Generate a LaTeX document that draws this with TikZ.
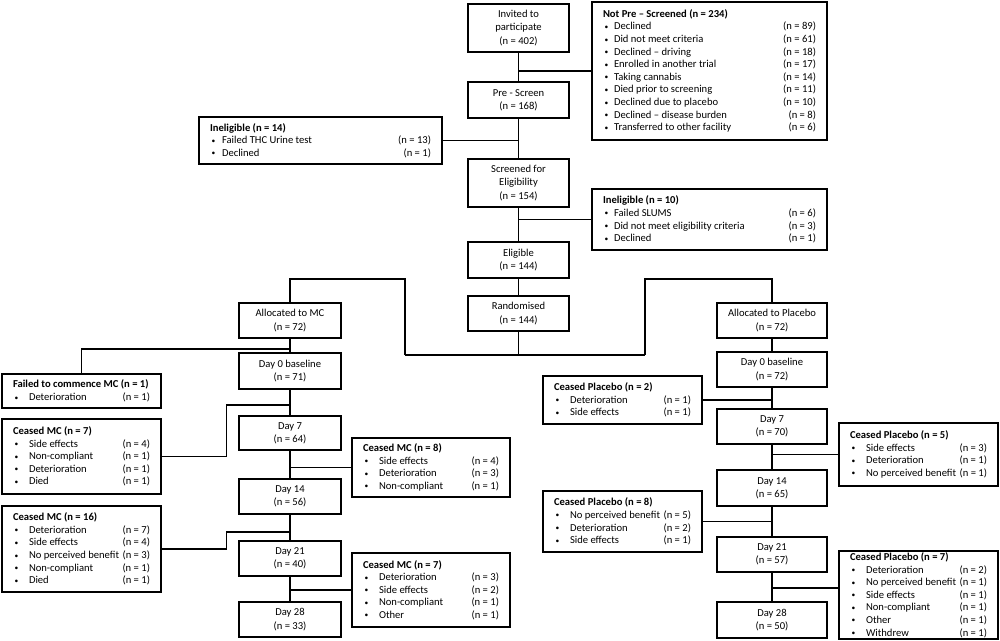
\documentclass[tikz,border=0pt]{standalone}
\usepackage{fontspec}
\setmainfont{Carlito}
\newlength\bulw
\newcommand\ttl[1]{\hbox{\textbf{#1}}}
\newcommand\rw[2]{\hbox to \linewidth{\makebox[\bulw][l]{\hspace{1.5pt}\raisebox{0.5pt}{\fontsize{7.5}{7.5}\selectfont\textbullet}}#1\hfill(n = #2)}}
\newcommand\lst[3]{\parbox{#1}{\setlength\bulw{#2}\setlength\parindent{0pt}\setlength\parskip{0pt}\fontsize{10.6}{12.6}\selectfont #3}}
\tikzset{
  box/.style={draw, line width=1.1pt, inner sep=0pt, align=center, font=\fontsize{10.6}{13.3}\selectfont},
  sbox/.style={draw, line width=1.1pt, inner sep=0pt},
  link/.style={line width=1.1pt}
}
\begin{document}
\begin{tikzpicture}[x=1pt, y=-1pt]
\useasboundingbox (0,0) rectangle (1000,640);
% middle column
\node[box, minimum width=101, minimum height=48] (invited) at (518.5,28) {Invited to\\participate\\(n = 402)};
\node[box, minimum width=101, minimum height=36] (prescreen) at (518.5,100) {Pre - Screen\\(n = 168)};
\node[box, minimum width=101, minimum height=48] (screened) at (518.5,183) {Screened for\\Eligibility\\(n = 154)};
\node[box, minimum width=101, minimum height=36] (eligible) at (518.5,260) {Eligible\\(n = 144)};
\node[box, minimum width=101, minimum height=35] (randomised) at (518.5,313.5) {Randomised\\(n = 144)};
% side boxes top
\node[sbox, minimum width=235, minimum height=138] (notpre) at (709.5,71) {\lst{213pt}{11pt}{%
\ttl{Not Pre – Screened (n = 234)}
\rw{Declined}{89}
\rw{Did not meet criteria}{61}
\rw{Declined – driving}{18}
\rw{Enrolled in another trial}{17}
\rw{Taking cannabis}{14}
\rw{Died prior to screening}{11}
\rw{Declined due to placebo}{10}
\rw{Declined – disease burden}{8}
\rw{Transferred to other facility}{6}}};
\node[sbox, minimum width=243, minimum height=47] (inel14) at (320.5,140.5) {\lst{221pt}{12pt}{%
\ttl{Ineligible (n = 14)}
\rw{Failed THC Urine test}{13}
\rw{Declined}{1}}};
\node[sbox, minimum width=235, minimum height=61] (inel10) at (709.5,219.5) {\lst{213pt}{11pt}{%
\ttl{Ineligible (n = 10)}
\rw{Failed SLUMS}{6}
\rw{Did not meet eligibility criteria}{3}
\rw{Declined}{1}}};
% MC column
\node[box, minimum width=102, minimum height=35] (allocmc) at (290,320.5) {Allocated to MC\\(n = 72)};
\node[box, minimum width=102, minimum height=36] (mc0) at (290,371) {Day 0 baseline\\(n = 71)};
\node[box, minimum width=102, minimum height=34] (mc7) at (290,433) {Day 7\\(n = 64)};
\node[box, minimum width=102, minimum height=35] (mc14) at (290,496.5) {Day 14\\(n = 56)};
\node[box, minimum width=102, minimum height=35] (mc21) at (290,558.5) {Day 21\\(n = 40)};
\node[box, minimum width=102, minimum height=35] (mc28) at (290,619.5) {Day 28\\(n = 33)};
% placebo column
\node[box, minimum width=110, minimum height=35] (allocpl) at (772,320.5) {Allocated to Placebo\\(n = 72)};
\node[box, minimum width=110, minimum height=35] (pl0) at (772,369.5) {Day 0 baseline\\(n = 72)};
\node[box, minimum width=110, minimum height=35] (pl7) at (772,426.5) {Day 7\\(n = 70)};
\node[box, minimum width=110, minimum height=36] (pl14) at (772,488) {Day 14\\(n = 65)};
\node[box, minimum width=110, minimum height=35] (pl21) at (772,554.5) {Day 21\\(n = 57)};
\node[box, minimum width=110, minimum height=36] (pl28) at (772,620) {Day 28\\(n = 50)};
% MC side boxes
\node[sbox, minimum width=159, minimum height=34] (failed) at (81.5,391) {\lst{137pt}{16pt}{%
\ttl{Failed to commence MC (n = 1)}
\rw{Deterioration}{1}}};
\node[sbox, minimum width=159, minimum height=75] (cmc7a) at (81.5,456.5) {\lst{137pt}{16pt}{%
\ttl{Ceased MC (n = 7)}
\rw{Side effects}{4}
\rw{Non-compliant}{1}
\rw{Deterioration}{1}
\rw{Died}{1}}};
\node[sbox, minimum width=159, minimum height=86] (cmc16) at (81.5,549) {\lst{137pt}{16pt}{%
\ttl{Ceased MC (n = 16)}
\rw{Deterioration}{7}
\rw{Side effects}{4}
\rw{No perceived benefit}{3}
\rw{Non-compliant}{1}
\rw{Died}{1}}};
\node[sbox, minimum width=158, minimum height=59] (cmc8) at (431,467.5) {\lst{136pt}{16pt}{%
\ttl{Ceased MC (n = 8)}
\rw{Side effects}{4}
\rw{Deterioration}{3}
\rw{Non-compliant}{1}}};
\node[sbox, minimum width=158, minimum height=74] (cmc7b) at (431,590) {\lst{136pt}{16pt}{%
\ttl{Ceased MC (n = 7)}
\rw{Deterioration}{3}
\rw{Side effects}{2}
\rw{Non-compliant}{1}
\rw{Other}{1}}};
% placebo side boxes
\node[sbox, minimum width=159, minimum height=48] (cpl2) at (622.5,400) {\lst{137pt}{16pt}{%
\ttl{Ceased Placebo (n = 2)}
\rw{Deterioration}{1}
\rw{Side effects}{1}}};
\node[sbox, minimum width=159, minimum height=61] (cpl8) at (622.5,521.5) {\lst{137pt}{16pt}{%
\ttl{Ceased Placebo (n = 8)}
\rw{No perceived benefit}{5}
\rw{Deterioration}{2}
\rw{Side effects}{1}}};
\node[sbox, minimum width=159, minimum height=63] (cpl5) at (918.5,454.5) {\lst{137pt}{16pt}{%
\ttl{Ceased Placebo (n = 5)}
\rw{Side effects}{3}
\rw{Deterioration}{1}
\rw{No perceived benefit}{1}}};
\node[sbox, minimum width=159, minimum height=88] (cpl7) at (918.5,595) {\lst{137pt}{16pt}{%
\ttl{Ceased Placebo (n = 7)}
\rw{Deterioration}{2}
\rw{No perceived benefit}{1}
\rw{Side effects}{1}
\rw{Non-compliant}{1}
\rw{Other}{1}
\rw{Withdrew}{1}}};
% junction coordinates
\coordinate (rb) at (518.5,355);
\coordinate (bl) at (405,355);
\coordinate (br) at (645,355);
\coordinate (blt) at (405,279);
\coordinate (brt) at (645,279);
\coordinate (fj) at (290,349);
\coordinate (j7) at (290,405);
\coordinate (j21) at (290,532);
% middle connectors
\draw[link] (invited) -- (prescreen);
\draw[link] (notpre.west) -- (notpre.west -| invited.south);
\draw[link] (prescreen) -- (screened);
\draw[link] (inel14.east) -- (inel14.east -| prescreen.south);
\draw[link] (screened) -- (eligible);
\draw[link] (inel10.west) -- (inel10.west -| screened.south);
\draw[link] (eligible) -- (randomised);
\draw[link] (randomised.south) -- (rb);
\draw[link] (bl) -- (br);
\draw[link] (bl) -- (blt) -| (allocmc.north);
\draw[link] (br) -- (brt) -| (allocpl.north);
% MC connectors
\draw[link] (allocmc) -- (mc0);
\draw[link] (mc0) -- (mc7);
\draw[link] (mc7) -- (mc14);
\draw[link] (mc14) -- (mc21);
\draw[link] (mc21) -- (mc28);
\draw[link] (failed.north) |- (fj);
\draw[link] (cmc7a.east) -- ++(65,0) |- (j7);
\draw[link] (cmc16.east) -- ++(65,0) |- (j21);
\draw[link] (cmc8.west) -- (cmc8.west -| mc7.south);
\draw[link] (cmc7b.west) -- (cmc7b.west -| mc21.south);
% placebo connectors
\draw[link] (allocpl) -- (pl0);
\draw[link] (pl0) -- (pl7);
\draw[link] (pl7) -- (pl14);
\draw[link] (pl14) -- (pl21);
\draw[link] (pl21) -- (pl28);
\draw[link] (cpl2.east) -- (cpl2.east -| pl0.south);
\draw[link] (cpl5.west) -- (cpl5.west -| pl7.south);
\draw[link] (cpl8.east) -- (cpl8.east -| pl14.south);
\draw[link] ([yshift=7pt]cpl7.west) -- ([yshift=7pt]cpl7.west -| pl21.south);
\end{tikzpicture}
\end{document}
